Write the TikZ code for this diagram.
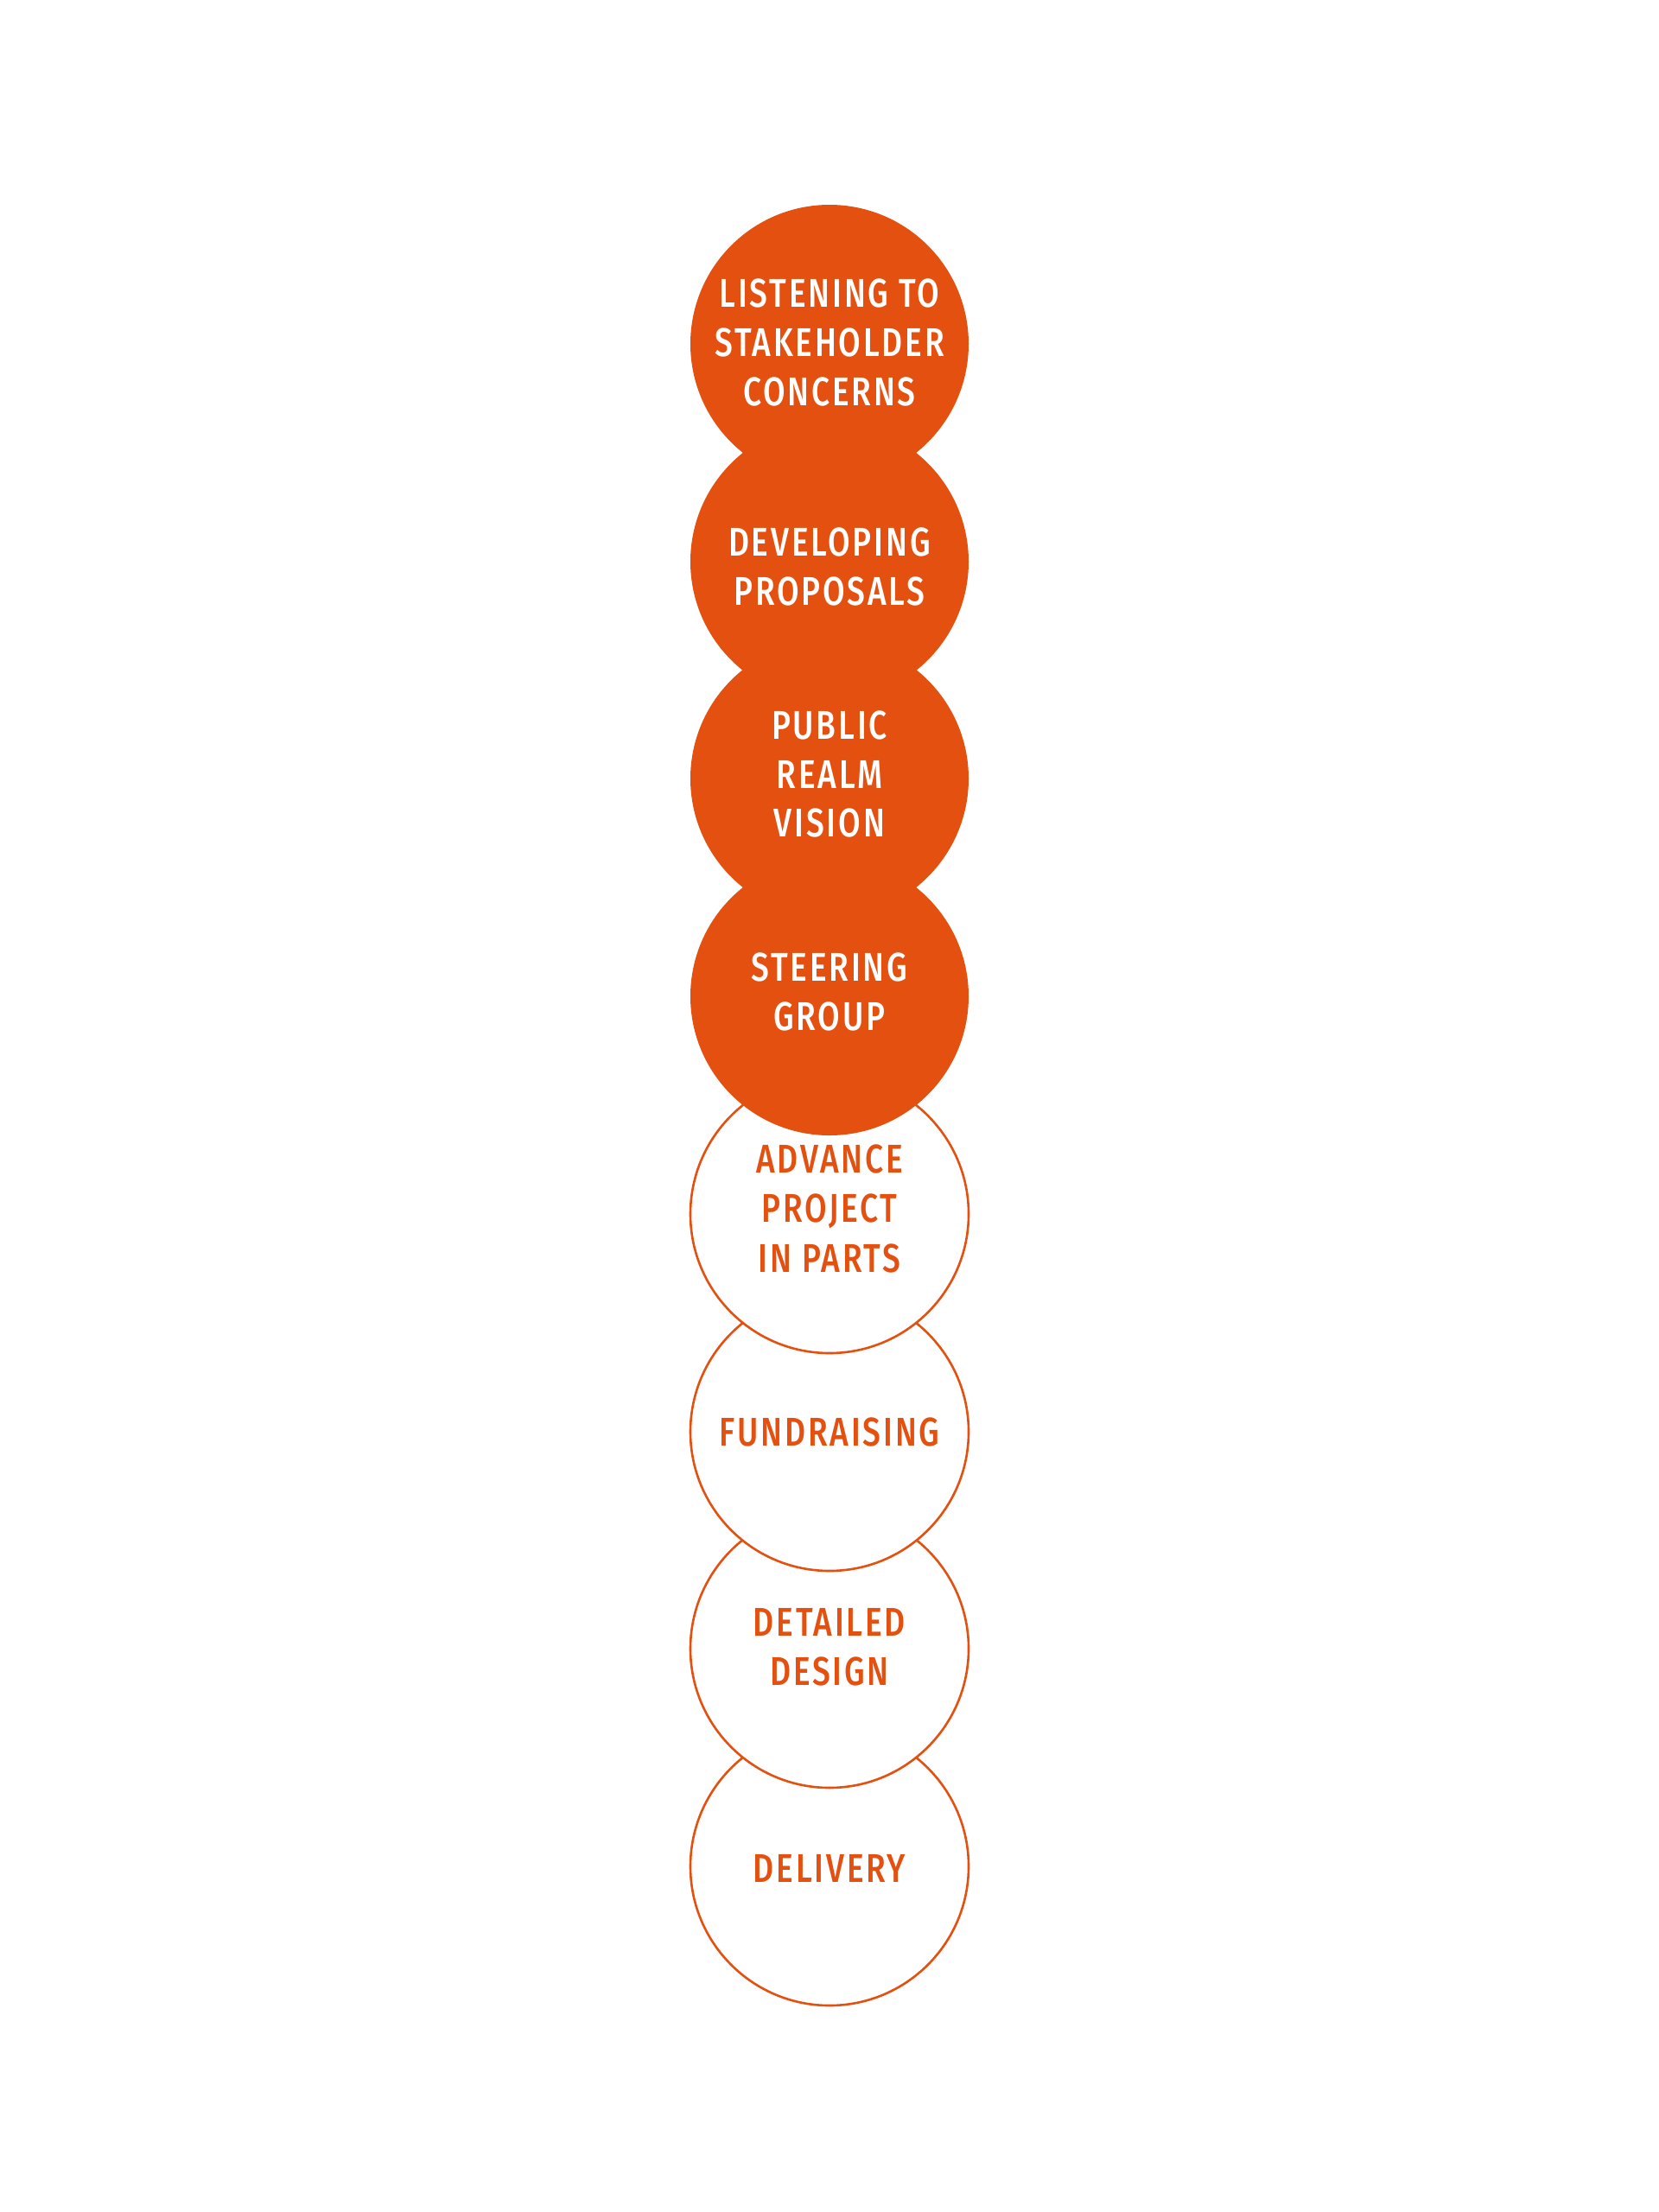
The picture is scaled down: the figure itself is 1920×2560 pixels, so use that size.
\documentclass[tikz,border=0pt]{standalone}
\usepackage{fontspec}
\newfontfamily\stepfont{Fira Sans Medium}[FakeStretch=0.8, LetterSpace=6]
\definecolor{brand}{HTML}{E4500F}
\tikzset{
  disc/.style={circle, minimum size=161pt, inner sep=0pt, outer sep=0pt, fill=brand},
  ring/.style={circle, minimum size=161pt, inner sep=0pt, outer sep=0pt, fill=white, draw=brand, line width=1.3pt},
  lbl/.style={anchor=base, inner sep=0pt, font=\stepfont\fontsize{23.2pt}{28.5pt}\selectfont},
  lblw/.style={lbl, text=white},
  lblo/.style={lbl, text=brand}
}
\begin{document}
\begin{tikzpicture}[x=0.5pt, y=-0.5pt]
\useasboundingbox (0,0) rectangle (1920,2560);
% circles drawn bottom-up so earlier ones lie on top
\node[ring] (c8) at (960,2160) {};
\node[ring] (c7) at (960,1908) {};
\node[ring] (c6) at (960,1657) {};
\node[ring] (c5) at (960,1405) {};
\node[disc] (c4) at (960,1153) {};
\node[disc] (c3) at (960,901) {};
\node[disc] (c2) at (960,650) {};
\node[disc] (c1) at (960,398) {};
% labels
\node[lblw] (t1a) at (960,355) {LISTENING TO};
\node[lblw] (t1b) at (960,412) {STAKEHOLDER};
\node[lblw] (t1c) at (960,469) {CONCERNS};
\node[lblw] (t2a) at (960,643) {DEVELOPING};
\node[lblw] (t2b) at (960,700) {PROPOSALS};
\node[lblw] (t3a) at (960,855) {PUBLIC};
\node[lblw] (t3b) at (960,912) {REALM};
\node[lblw] (t3c) at (960,968) {VISION};
\node[lblw] (t4a) at (960,1135) {STEERING};
\node[lblw] (t4b) at (960,1192) {GROUP};
\node[lblo] (t5a) at (960,1357) {ADVANCE};
\node[lblo] (t5b) at (960,1414) {PROJECT};
\node[lblo] (t5c) at (960,1472) {IN PARTS};
\node[lblo] (t6a) at (960,1673) {FUNDRAISING};
\node[lblo] (t7a) at (960,1893) {DETAILED};
\node[lblo] (t7b) at (960,1950) {DESIGN};
\node[lblo] (t8a) at (960,2178) {DELIVERY};
\end{tikzpicture}
\end{document}
